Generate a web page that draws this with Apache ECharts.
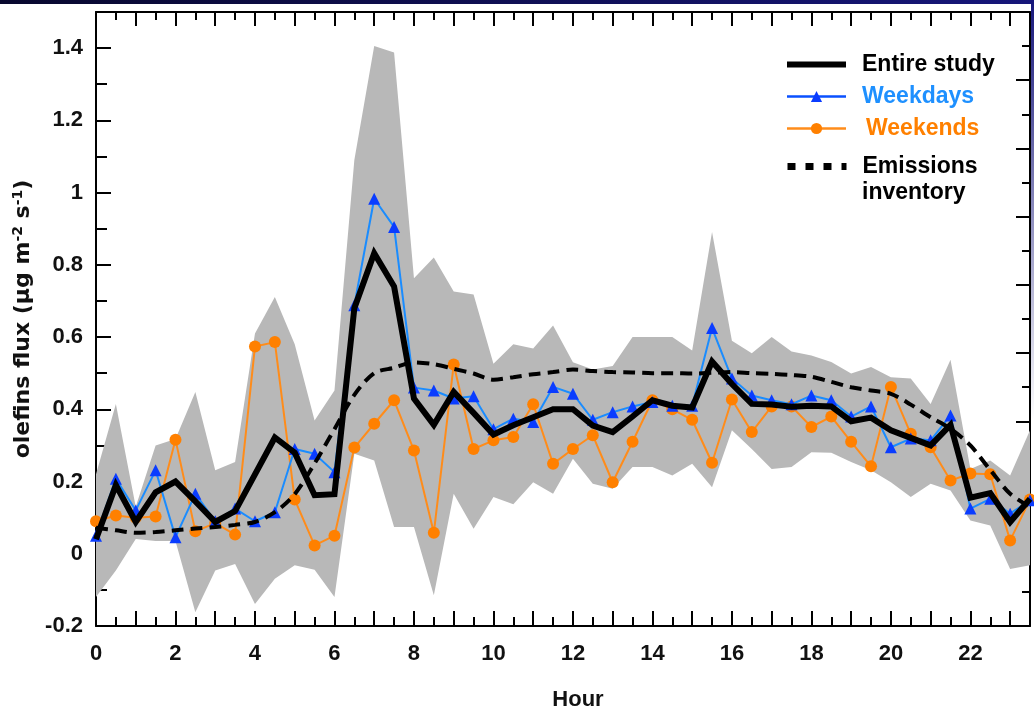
<!DOCTYPE html>
<html>
<head>
<meta charset="utf-8">
<title>Olefins flux by hour</title>
<script src="https://cdn.jsdelivr.net/npm/echarts@6/dist/echarts.min.js"></script>
<style>
  html, body { margin: 0; padding: 0; background: #ffffff; }
  #chart { width: 1034px; height: 708px; }
</style>
</head>
<body>
<div id="chart"></div>
<script>
// Half-hour bins of the day
const hours = [0, 0.5, 1, 1.5, 2, 2.5, 3, 3.5, 4, 4.5, 5, 5.5, 6, 6.5, 7, 7.5,
  8, 8.5, 9, 9.5, 10, 10.5, 11, 11.5, 12, 12.5, 13, 13.5, 14, 14.5, 15, 15.5,
  16, 16.5, 17, 17.5, 18, 18.5, 19, 19.5, 20, 20.5, 21, 21.5, 22, 22.5, 23, 23.5];

// Mean olefins flux over the entire study (µg m-2 s-1)
const entireStudy = [0.04, 0.19, 0.088, 0.17, 0.20, 0.145, 0.088, 0.118, 0.22, 0.322, 0.28, 0.162,
  0.165, 0.68, 0.832, 0.74, 0.43, 0.357, 0.448, 0.39, 0.33, 0.356, 0.378, 0.40,
  0.40, 0.355, 0.337, 0.38, 0.425, 0.41, 0.405, 0.532, 0.47, 0.415, 0.413, 0.407,
  0.41, 0.408, 0.367, 0.377, 0.342, 0.321, 0.30, 0.357, 0.155, 0.168, 0.088, 0.152];

// Weekday means
const weekdays = [0.05, 0.208, 0.12, 0.231, 0.046, 0.166, 0.09, 0.125, 0.09, 0.115, 0.29, 0.277,
  0.226, 0.688, 0.983, 0.905, 0.46, 0.452, 0.43, 0.436, 0.345, 0.374, 0.365, 0.462,
  0.443, 0.371, 0.392, 0.408, 0.42, 0.41, 0.41, 0.625, 0.485, 0.438, 0.425, 0.414,
  0.438, 0.425, 0.38, 0.408, 0.295, 0.319, 0.314, 0.383, 0.125, 0.152, 0.111, 0.148];

// Weekend means
const weekends = [0.09, 0.106, 0.1, 0.103, 0.316, 0.062, 0.085, 0.053, 0.574, 0.586, 0.15, 0.023,
  0.05, 0.294, 0.36, 0.425, 0.286, 0.058, 0.524, 0.29, 0.314, 0.323, 0.414, 0.249,
  0.29, 0.328, 0.198, 0.31, 0.425, 0.40, 0.371, 0.252, 0.427, 0.337, 0.408, 0.408,
  0.351, 0.38, 0.31, 0.242, 0.462, 0.332, 0.295, 0.203, 0.222, 0.22, 0.037, 0.15];

// Emissions inventory estimate
const inventory = [0.072, 0.065, 0.058, 0.06, 0.065, 0.07, 0.074, 0.08, 0.088, 0.115, 0.165, 0.25,
  0.345, 0.44, 0.5, 0.515, 0.53, 0.525, 0.512, 0.499, 0.482, 0.489, 0.497, 0.503,
  0.51, 0.506, 0.503, 0.502, 0.5, 0.5, 0.499, 0.501, 0.503, 0.5, 0.498, 0.495,
  0.49, 0.476, 0.461, 0.452, 0.443, 0.413, 0.378, 0.346, 0.30, 0.232, 0.166, 0.13];

// Variability envelope (lower and upper bounds)
const bandLower = [-0.12, -0.046, 0.041, 0.035, 0.035, -0.162, -0.046, -0.028, -0.139, -0.069, -0.032, -0.044,
  -0.12, 0.277, 0.258, 0.074, 0.074, -0.115, 0.166, 0.069, 0.157, 0.137, 0.198, 0.166,
  0.263, 0.194, 0.18, 0.24, 0.24, 0.217, 0.249, 0.184, 0.342, 0.29, 0.235, 0.24,
  0.281, 0.28, 0.254, 0.231, 0.198, 0.157, 0.194, 0.175, 0.092, 0.078, -0.042, -0.032];
const bandUpper = [0.22, 0.415, 0.13, 0.30, 0.318, 0.448, 0.231, 0.254, 0.61, 0.711, 0.58, 0.369,
  0.452, 1.09, 1.406, 1.388, 0.763, 0.82, 0.726, 0.718, 0.526, 0.58, 0.568, 0.632,
  0.53, 0.51, 0.52, 0.6, 0.6, 0.6, 0.563, 0.891, 0.59, 0.555, 0.6, 0.56,
  0.549, 0.531, 0.499, 0.517, 0.489, 0.485, 0.415, 0.537, 0.235, 0.258, 0.217, 0.342];

const FONT = '"Liberation Sans", Arial, sans-serif';
const NAME_FONT = '"DejaVu Sans", Verdana, sans-serif';
const pairs = vals => hours.map((h, i) => [h, vals[i]]);

const chart = echarts.init(document.getElementById('chart'), null, { renderer: 'canvas' });

const frameLine = { show: true, onZero: false, lineStyle: { color: '#000', width: 2 } };
const noLine = { show: false, onZero: false };
const tickStyle = { color: '#000', width: 2 };
const legendText = { fontFamily: FONT, fontWeight: 'bold', fontSize: 23, lineHeight: 23, color: '#000' };
const hiddenSymbol = { color: 'rgba(0,0,0,0)', opacity: 0, borderWidth: 0 };

// Envelope polygon: upper bound left to right, then lower bound back
function renderBand(params, api) {
  const pts = [];
  for (let i = 0; i < hours.length; i++) pts.push(api.coord([hours[i], bandUpper[i]]));
  for (let i = hours.length - 1; i >= 0; i--) pts.push(api.coord([hours[i], bandLower[i]]));
  return { type: 'polygon', shape: { points: pts }, style: { fill: '#b8b8b8' }, silent: true };
}

const option = {
  animation: false,
  backgroundColor: '#ffffff',
  graphic: [
    {
      type: 'rect', left: 0, top: 0, z: 100,
      shape: { width: 1034, height: 4 },
      style: {
        fill: new echarts.graphic.LinearGradient(0, 0, 1, 0, [
          { offset: 0, color: '#08082e' }, { offset: 1, color: '#16167a' }
        ])
      }
    },
    {
      type: 'rect', left: 1031, top: 0, z: 100,
      shape: { width: 3, height: 420 },
      style: {
        fill: new echarts.graphic.LinearGradient(0, 0, 0, 1, [
          { offset: 0, color: '#16167a' }, { offset: 1, color: 'rgba(22,22,122,0)' }
        ])
      }
    },
    {
      type: 'text', left: 862, top: 181, z: 100,
      style: { text: 'inventory', fill: '#000', font: 'bold 23px ' + FONT }
    }
  ],
  grid: { left: 96, right: 4, top: 12, bottom: 82, containLabel: false, outerBoundsMode: 'none' },
  legend: [
    {
      orient: 'vertical', left: 784, top: 53, padding: 0,
      itemWidth: 59, itemHeight: 14, itemGap: 9, selectedMode: false,
      textStyle: Object.assign({}, legendText, { padding: [0, 0, 0, 11] }),
      data: [
        { name: 'Entire study', lineStyle: { width: 6, color: '#000' }, itemStyle: hiddenSymbol },
        {
          name: 'Weekdays', lineStyle: { width: 2.5, color: '#0a50ff' }, itemStyle: { color: '#0a3cff' },
          textStyle: { color: '#1e90ff' }
        },
        {
          name: 'Weekends', lineStyle: { width: 2.5, color: '#ff8c1a' }, itemStyle: { color: '#ff8000' },
          textStyle: { color: '#ff8000', padding: [0, 0, 0, 15] }
        }
      ]
    },
    {
      orient: 'vertical', left: 784, top: 155, padding: 0,
      itemWidth: 59, itemHeight: 14, selectedMode: false,
      textStyle: Object.assign({}, legendText, { padding: [0, 0, 0, 11] }),
      formatter: () => 'Emissions',
      data: [
        { name: 'Emissions inventory', lineStyle: { type: [8, 10], width: 7, color: '#000' }, itemStyle: hiddenSymbol }
      ]
    }
  ],
  xAxis: [
    {
      type: 'value', position: 'bottom', min: 0, max: 23.5, interval: 1,
      axisLine: frameLine,
      axisTick: { show: true, inside: true, length: 15, lineStyle: tickStyle },
      splitLine: { show: false },
      axisLabel: {
        margin: 17, color: '#111', fontFamily: FONT, fontWeight: 'bold', fontSize: 22,
        formatter: v => (v % 2 === 0 && v <= 22 ? String(v) : '')
      },
      name: 'Hour', nameLocation: 'middle', nameGap: 63,
      nameTextStyle: { color: '#111', fontFamily: FONT, fontWeight: 'bold', fontSize: 22, padding: [0, 0, 0, 30] }
    },
    {
      type: 'value', position: 'bottom', min: 0, max: 23.5, interval: 0.5,
      axisLine: noLine,
      axisTick: { show: true, inside: true, length: 9, lineStyle: tickStyle },
      splitLine: { show: false }, axisLabel: { show: false }
    },
    {
      type: 'value', position: 'top', min: 0, max: 23.5, interval: 1,
      axisLine: frameLine,
      axisTick: { show: true, inside: true, length: 14, lineStyle: tickStyle },
      splitLine: { show: false }, axisLabel: { show: false }
    },
    {
      type: 'value', position: 'top', min: 0, max: 23.5, interval: 0.5,
      axisLine: noLine,
      axisTick: { show: true, inside: true, length: 8, lineStyle: tickStyle },
      splitLine: { show: false }, axisLabel: { show: false }
    }
  ],
  yAxis: [
    {
      type: 'value', position: 'left', min: -0.2, max: 1.5, interval: 0.2,
      axisLine: frameLine,
      axisTick: { show: true, inside: true, length: 15, lineStyle: tickStyle },
      splitLine: { show: false },
      axisLabel: {
        margin: 13, color: '#111', fontFamily: FONT, fontWeight: 'bold', fontSize: 22,
        formatter: v => (v > 1.45 ? '' : String(+v.toFixed(1)))
      },
      name: '{a|olefins flux (μg m}{s|-2}{a| s}{s|-1}{a|)}',
      nameLocation: 'middle', nameRotate: 90, nameGap: 50,
      nameTextStyle: {
        color: '#111', fontFamily: NAME_FONT, fontWeight: 'bold', fontSize: 22,
        rich: {
          a: { color: '#111', fontFamily: NAME_FONT, fontWeight: 'bold', fontSize: 22, lineHeight: 24 },
          s: { color: '#111', fontFamily: NAME_FONT, fontWeight: 'bold', fontSize: 14, lineHeight: 14, verticalAlign: 'top' }
        }
      }
    },
    {
      type: 'value', position: 'left', min: -0.2, max: 1.5, interval: 0.1,
      axisLine: noLine,
      axisTick: { show: true, inside: true, length: 11, lineStyle: tickStyle },
      splitLine: { show: false }, axisLabel: { show: false }
    },
    {
      type: 'value', position: 'right', min: 0, max: 9, interval: 1,
      axisLine: frameLine,
      axisTick: { show: true, inside: true, length: 14, lineStyle: tickStyle },
      minorTick: { show: true, splitNumber: 2, length: 8, lineStyle: tickStyle },
      splitLine: { show: false }, minorSplitLine: { show: false }, axisLabel: { show: false }
    }
  ],
  series: [
    {
      name: 'envelope', type: 'custom', coordinateSystem: 'cartesian2d',
      data: [[0, 0]], renderItem: renderBand, silent: true, z: 1
    },
    {
      name: 'Weekends', type: 'line', data: pairs(weekends),
      symbol: 'circle', symbolSize: 12,
      lineStyle: { color: '#ff8c1a', width: 2 },
      itemStyle: { color: '#ff8000' }, z: 3
    },
    {
      name: 'Weekdays', type: 'line', data: pairs(weekdays),
      symbol: 'triangle', symbolSize: 12,
      lineStyle: { color: '#1a8cff', width: 2 },
      itemStyle: { color: '#0a3cff' }, z: 4
    },
    {
      name: 'Emissions inventory', type: 'line', data: pairs(inventory),
      symbol: 'none', smooth: 0.3,
      lineStyle: { color: '#000', width: 4, type: [12, 7] },
      itemStyle: { color: '#000' }, z: 5
    },
    {
      name: 'Entire study', type: 'line', data: pairs(entireStudy),
      symbol: 'none',
      lineStyle: { color: '#000', width: 6, join: 'miter' },
      itemStyle: { color: '#000' }, z: 6
    }
  ]
};

chart.setOption(option);
</script>
</body>
</html>
